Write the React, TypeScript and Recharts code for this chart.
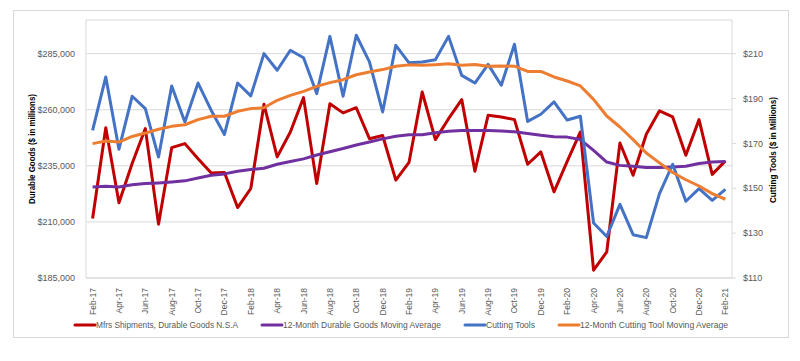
import React from 'react';
import { LineChart, Line, XAxis, YAxis, CartesianGrid } from 'recharts';

const months = [
  'Feb-17','Mar-17','Apr-17','May-17','Jun-17','Jul-17','Aug-17','Sep-17','Oct-17','Nov-17','Dec-17','Jan-18',
  'Feb-18','Mar-18','Apr-18','May-18','Jun-18','Jul-18','Aug-18','Sep-18','Oct-18','Nov-18','Dec-18','Jan-19',
  'Feb-19','Mar-19','Apr-19','May-19','Jun-19','Jul-19','Aug-19','Sep-19','Oct-19','Nov-19','Dec-19','Jan-20',
  'Feb-20','Mar-20','Apr-20','May-20','Jun-20','Jul-20','Aug-20','Sep-20','Oct-20','Nov-20','Dec-20','Jan-21',
  'Feb-21',
];

const durableGoods = [
  211500, 252000, 218500, 236000, 251600, 209000, 243100, 244900, 238200, 231800, 232000, 216400,
  224900, 262400, 239000, 250100, 265400, 227100, 262700, 258600, 260900, 247100, 248500, 228600,
  236500, 267900, 246700, 256000, 264500, 232600, 257500, 256800, 255600, 235700, 241200, 223400,
  237000, 250100, 188500, 196600, 245200, 230800, 249100, 259500, 256800, 239700, 255600, 231200,
  237200,
];

const durableGoodsMA = [
  225600, 225900, 225600, 226600, 227100, 227400, 227800, 228300, 229600, 230800, 231400, 232600,
  233400, 233900, 235700, 236900, 238100, 239800, 241300, 242700, 244300, 245600, 247000, 248200,
  248800, 248900, 249700, 250400, 250700, 250800, 250700, 250500, 250200, 249400, 248600, 248000,
  247800, 246700, 241900, 236700, 235200, 234800, 234300, 234300, 234500, 234800, 236000, 236700,
  236900,
];

const cuttingTools = [
  175.8, 199.6, 167.4, 191.0, 185.5, 163.9, 195.6, 179.5, 196.9, 184.7, 174.0, 196.9,
  191.2, 210.0, 202.6, 211.5, 208.2, 192.2, 217.7, 191.0, 218.2, 206.3, 184.0, 213.7,
  205.9, 206.3, 207.3, 217.7, 200.3, 196.9, 205.2, 195.9, 214.2, 179.8, 183.0, 188.5,
  180.4, 182.1, 134.5, 128.5, 142.8, 129.3, 128.0, 147.6, 160.7, 144.2, 149.8, 144.6,
  149.5,
];

const cuttingToolsMA = [
  169.9, 171.1, 170.6, 173.1, 174.6, 176.3, 177.6, 178.3, 180.6, 182.1, 182.1, 184.3,
  185.5, 185.9, 189.2, 191.4, 193.2, 195.4, 197.1, 198.4, 200.6, 201.8, 202.9, 204.4,
  205.0, 204.8, 205.1, 205.5, 204.8, 205.2, 204.4, 204.5, 204.4, 202.1, 202.1, 199.6,
  197.8, 195.6, 189.6, 182.2, 177.3, 171.7, 165.7, 161.3, 157.0, 153.8, 151.0, 147.6,
  145.1,
];

const leftTicks = [185000, 210000, 235000, 260000, 285000];
const rightTicks = [110, 130, 150, 170, 190, 210];

const seriesNames = [
  'Mfrs Shipments, Durable Goods N.S.A',
  '12-Month Durable Goods Moving Average',
  'Cutting Tools',
  '12-Month Cutting Tool Moving Average',
];

const data = months.map((m, i) => ({
  month: m,
  durable: durableGoods[i],
  durableMA: durableGoodsMA[i],
  cutting: cuttingTools[i],
  cuttingMA: cuttingToolsMA[i],
}));

const FONT = '"Liberation Sans", Arial, sans-serif';
const TICK_COLOR = '#595959';
const GRID = '#d9d9d9';
const COLORS = ['#C00000', '#7030A0', '#4472C4', '#ED7D31'];

const XTick = (props: any) => {
  const { x, y, payload } = props;
  return (
    <text
      x={x}
      y={y}
      transform={`rotate(-90, ${x}, ${y})`}
      textAnchor="end"
      dy="0.35em"
      fontSize={8.5}
      fontFamily={FONT}
      fill={TICK_COLOR}
    >
      {payload.value}
    </text>
  );
};

const legendItems = [
  { lx: 75, tx: 96, tw: 142 },
  { lx: 262, tx: 283, tw: 158 },
  { lx: 465, tx: 486, tw: 49 },
  { lx: 559, tx: 580, tw: 148 },
];

export default function App() {
  return (
    <div style={{ position: 'absolute', left: 0, top: 0, width: 800, height: 361, background: '#fff' }}>
      <div
        style={{
          position: 'absolute',
          left: 13,
          top: 10,
          width: 776,
          height: 328,
          border: '1px solid #d9d9d9',
          boxSizing: 'border-box',
        }}
      />
      <div style={{ position: 'absolute', left: 0, top: 0 }}>
        <LineChart width={800} height={361} data={data} margin={{ top: 20, right: 0, bottom: 33, left: 0 }}>
          <CartesianGrid yAxisId="left" vertical={false} stroke={GRID} />
          <XAxis
            dataKey="month"
            interval={1}
            tick={<XTick />}
            tickLine={false}
            axisLine={{ stroke: GRID }}
            height={50}
            tickMargin={4}
            padding={{ left: 6.6, right: 6.6 }}
          />
          <YAxis
            yAxisId="left"
            orientation="left"
            width={86}
            domain={[185000, 300000]}
            ticks={leftTicks}
            allowDataOverflow
            tickFormatter={(v: number) => `$${v.toLocaleString('en-US')}`}
            tick={{ fontSize: 9, fill: TICK_COLOR, fontFamily: FONT }}
            tickLine={false}
            tickMargin={5}
            axisLine={{ stroke: GRID }}
            label={{
              content: () => (
                <text
                  x={32}
                  y={149}
                  transform="rotate(-90, 32, 149)"
                  textAnchor="middle"
                  dy="0.35em"
                  fontSize={8.5}
                  fontWeight="bold"
                  fontFamily={FONT}
                  fill="#000"
                  textLength={110}
                  lengthAdjust="spacingAndGlyphs"
                >
                  Durable Goods ($ in millions)
                </text>
              ),
            }}
          />
          <YAxis
            yAxisId="right"
            orientation="right"
            width={68}
            domain={[110, 225]}
            ticks={rightTicks}
            allowDataOverflow
            tickFormatter={(v: number) => `$${v}`}
            tick={{ fontSize: 9, fill: TICK_COLOR, fontFamily: FONT }}
            tickLine={{ stroke: GRID }}
            tickSize={4}
            tickMargin={7}
            axisLine={{ stroke: GRID }}
            label={{
              content: () => (
                <text
                  x={773}
                  y={150}
                  transform="rotate(-90, 773, 150)"
                  textAnchor="middle"
                  dy="0.35em"
                  fontSize={8.5}
                  fontWeight="bold"
                  fontFamily={FONT}
                  fill="#000"
                  textLength={106}
                  lengthAdjust="spacingAndGlyphs"
                >
                  Cutting Tools ($ in Millions)
                </text>
              ),
            }}
          />
          <Line yAxisId="left" type="linear" dataKey="durable" name={seriesNames[0]} stroke={COLORS[0]} strokeWidth={3} dot={false} isAnimationActive={false} strokeLinejoin="round" />
          <Line yAxisId="left" type="linear" dataKey="durableMA" name={seriesNames[1]} stroke={COLORS[1]} strokeWidth={3} dot={false} isAnimationActive={false} strokeLinejoin="round" />
          <Line yAxisId="right" type="linear" dataKey="cutting" name={seriesNames[2]} stroke={COLORS[2]} strokeWidth={3} dot={false} isAnimationActive={false} strokeLinejoin="round" />
          <Line yAxisId="right" type="linear" dataKey="cuttingMA" name={seriesNames[3]} stroke={COLORS[3]} strokeWidth={3} dot={false} isAnimationActive={false} strokeLinejoin="round" />
        </LineChart>
      </div>
      <svg width={800} height={361} style={{ position: 'absolute', left: 0, top: 0, pointerEvents: 'none' }}>
        {legendItems.map((it, i) => (
          <g key={i}>
            <line x1={it.lx} x2={it.lx + 20} y1={325} y2={325} stroke={COLORS[i]} strokeWidth={3} strokeLinecap="round" />
            <text
              x={it.tx}
              y={325}
              dy="0.35em"
              fontSize={9}
              fontFamily={FONT}
              fill={TICK_COLOR}
              textLength={it.tw}
              lengthAdjust="spacingAndGlyphs"
            >
              {seriesNames[i]}
            </text>
          </g>
        ))}
      </svg>
    </div>
  );
}
